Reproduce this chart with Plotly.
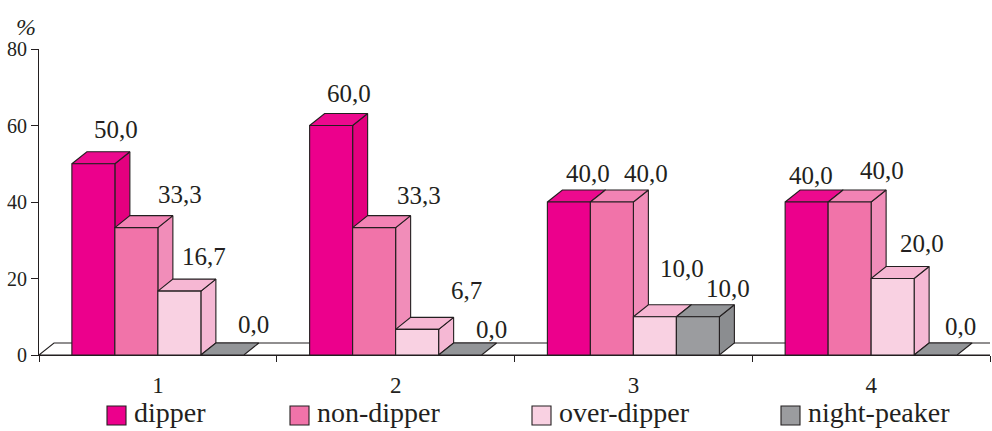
import plotly.graph_objects as go

# --- data -------------------------------------------------------------
groups = ["1", "2", "3", "4"]
series = ["dipper", "non-dipper", "over-dipper", "night-peaker"]
dipper = [50.0, 60.0, 40.0, 40.0]
non_dipper = [33.3, 33.3, 40.0, 40.0]
over_dipper = [16.7, 6.7, 10.0, 20.0]
night_peaker = [0.0, 0.0, 10.0, 0.0]
y_ticks = [0, 20, 40, 60, 80]

values = [dipper, non_dipper, over_dipper, night_peaker]

# --- styling ----------------------------------------------------------
FONT = "'Liberation Serif', 'Times New Roman', Times, serif"
INK = "#231F20"
front_col = ["#EC008C", "#F173A9", "#F9D1E2", "#9B9C9F"]
top_col = ["#EC0A8E", "#F283B4", "#F6B7D3", "#939598"]
side_col = ["#E4007F", "#F18DB9", "#F5B8D4", "#8B8D90"]

W, H = 992, 431
ML, MR, MT, MB = 39, 2, 49, 76
plot_w = W - ML - MR
plot_h = H - MT - MB
X_RANGE = [0.5, 4.5]
Y_RANGE = [0, 80]
px_per_x = plot_w / (X_RANGE[1] - X_RANGE[0])
px_per_y = plot_h / (Y_RANGE[1] - Y_RANGE[0])

BAR_W = 43 / px_per_x          # bar width in category units
DX = 15 / px_per_x             # depth offset (right)
DY = 12 / px_per_y             # depth offset (up)

# label offsets in pixels from the top-front centre of each bar: (right, up)
label_shift = [
    [(23, 34), (18, 32), (19, 28.5), (4, 27)],
    [(44, 33), (45, 32.5), (34, 28.5), (32, 32)],
    [(24.5, 35), (49, 39), (27, 48), (29, 35.5)],
    [(31, 31), (31, 25.5), (30, 28), (25, 28.5)],
]


def poly(pts_list):
    xs, ys = [], []
    for pts in pts_list:
        for x, y in pts:
            xs.append(x)
            ys.append(y)
        xs.append(pts[0][0])
        ys.append(pts[0][1])
        xs.append(None)
        ys.append(None)
    return xs, ys


def face_trace(pts_list, fill):
    xs, ys = poly(pts_list)
    return go.Scatter(
        x=xs, y=ys, mode="lines", fill="toself", fillcolor=fill,
        line=dict(color=INK, width=1.1), hoverinfo="skip", showlegend=False,
    )


fig = go.Figure()

# floor of the 3D plot
fig.add_trace(face_trace(
    [[(X_RANGE[0], 0), (X_RANGE[0] + DX, DY), (X_RANGE[1] + DX + 0.2, DY),
      (X_RANGE[1] + 0.2, 0)]], "white"))

annotations = []
for s, vals in enumerate(values):
    sides, tops, fronts = [], [], []
    for g, h in enumerate(vals):
        c = g + 1
        x0 = c + (s - 2) * BAR_W
        x1 = x0 + BAR_W
        tops.append([(x0, h), (x1, h), (x1 + DX, h + DY), (x0 + DX, h + DY)])
        if h > 0:
            sides.append([(x1, 0), (x1 + DX, DY), (x1 + DX, h + DY), (x1, h)])
            fronts.append([(x0, 0), (x1, 0), (x1, h), (x0, h)])
        sx, sy = label_shift[s][g]
        annotations.append(dict(
            x=(x0 + x1) / 2, y=h, xref="x", yref="y",
            text=f"{h:.1f}".replace(".", ","), showarrow=False,
            xanchor="center", yanchor="middle", xshift=sx, yshift=sy,
            font=dict(family=FONT, size=25, color=INK),
        ))
    if sides:
        fig.add_trace(face_trace(sides, side_col[s]))
    fig.add_trace(face_trace(tops, top_col[s]))
    if fronts:
        fig.add_trace(face_trace(fronts, front_col[s]))


def px_x(p):
    return (p - ML) / plot_w


def px_y(p):
    return (MT + plot_h - p) / plot_h


# "%" unit label above the y axis
annotations.append(dict(
    x=px_x(26), y=px_y(27), xref="paper", yref="paper", text="<i>%</i>",
    showarrow=False, xanchor="center", yanchor="middle",
    font=dict(family=FONT, size=24, color=INK),
))

# legend row
shapes = []
legend_left = [107, 290, 532, 781]
for s, name in enumerate(series):
    lx = legend_left[s]
    shapes.append(dict(
        type="rect", xref="paper", yref="paper",
        x0=px_x(lx), x1=px_x(lx + 19), y0=px_y(425), y1=px_y(406),
        fillcolor=front_col[s], line=dict(color=INK, width=1.1),
    ))
    annotations.append(dict(
        x=px_x(lx + 25), y=px_y(412), xref="paper", yref="paper", text=name,
        showarrow=False, xanchor="left", yanchor="middle",
        font=dict(family=FONT, size=28, color=INK),
    ))

fig.update_layout(
    width=W, height=H,
    margin=dict(l=ML, r=MR, t=MT, b=MB, pad=0),
    paper_bgcolor="white", plot_bgcolor="white",
    showlegend=False,
    annotations=annotations,
    shapes=shapes,
    xaxis=dict(
        range=X_RANGE, tickmode="array", tickvals=[1, 2, 3, 4], ticktext=groups,
        ticks="", showgrid=False, zeroline=False, showline=True,
        linecolor=INK, linewidth=1.1, ticklabelstandoff=9,
        tickfont=dict(family=FONT, size=23, color=INK),
        minor=dict(tickmode="array", tickvals=[0.5, 1.5, 2.5, 3.5, 4.5],
                   ticks="outside", ticklen=6, tickcolor=INK, tickwidth=1.1,
                   showgrid=False),
        fixedrange=True,
    ),
    yaxis=dict(
        range=Y_RANGE, tickmode="array", tickvals=y_ticks,
        ticks="outside", ticklen=7, tickcolor=INK, tickwidth=1.1,
        showgrid=False, zeroline=False, showline=True,
        linecolor=INK, linewidth=1.1,
        tickfont=dict(family=FONT, size=20, color=INK),
        fixedrange=True,
    ),
)

fig.write_html("out.html")
